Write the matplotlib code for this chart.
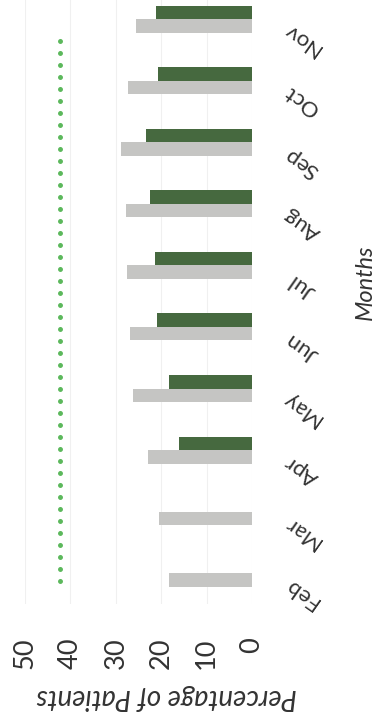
"""
Monthly percentage of patients, drawn turned on its side like the scanned page.
"""
import matplotlib
matplotlib.use("Agg")
import matplotlib.pyplot as plt
import matplotlib.transforms as mtransforms
import numpy as np

plt.rcParams["font.family"] = ["Lato", "DejaVu Sans"]

months = ["Feb", "Mar", "Apr", "May", "Jun", "Jul", "Aug", "Sep", "Oct", "Nov"]
grey_vals = [18.3, 20.5, 22.9, 26.3, 26.8, 27.6, 27.8, 28.9, 27.4, 25.6]
green_vals = [0, 0, 16.1, 18.3, 20.9, 21.4, 22.5, 23.4, 20.7, 21.2]
target = 42.4
x_ticks = [0, 10, 20, 30, 40, 50]

GREEN = "#46693f"
GREY = "#c5c5c3"
DOT = "#5cb85c"
TXT = "#333333"

fig = plt.figure(figsize=(3.8, 7.21), dpi=100, facecolor="white")
ax = fig.add_axes([25 / 380, 117 / 721, 227 / 380, 604 / 721])

y = np.arange(len(months))
h = 0.22
ax.barh(y + h / 2, green_vals, height=h, color=GREEN, zorder=3)
ax.barh(y - h / 2, grey_vals, height=h, color=GREY, zorder=3)

ax.plot([target, target], [-0.13, 8.8], color=DOT, lw=3.6,
        linestyle=(0, (0.01, 2.39)), dash_capstyle="round", zorder=4)

ax.set_xlim(50, 0)
ax.set_ylim(-0.5, 9.31)
ax.set_xticks(x_ticks)
ax.set_xticklabels([str(t) for t in x_ticks], rotation=90, fontsize=19.5,
                   color=TXT)
ax.tick_params(axis="x", length=0, pad=24)
ax.set_yticks([])
for s in ax.spines.values():
    s.set_visible(False)
ax.grid(axis="x", color="#f0f0f0", lw=0.8, zorder=0)

# month labels, upside down and tilted
trans = mtransforms.blended_transform_factory(ax.transAxes, ax.transData)
for yi, m in zip(y, months):
    ax.text(1.22, yi - 0.33, m, transform=trans, rotation=145,
            ha="center", va="center", fontsize=16, color=TXT)

fig.text(365 / 380, 1 - 282 / 721, "Months", rotation=90, ha="center",
         va="center", fontsize=17, style="italic", color=TXT)
fig.text(167 / 380, 1 - 697 / 721, "Percentage of Patients", rotation=180,
         ha="center", va="center", fontsize=20, style="italic", color=TXT)

fig.savefig("out.png", dpi=100, facecolor="white")
